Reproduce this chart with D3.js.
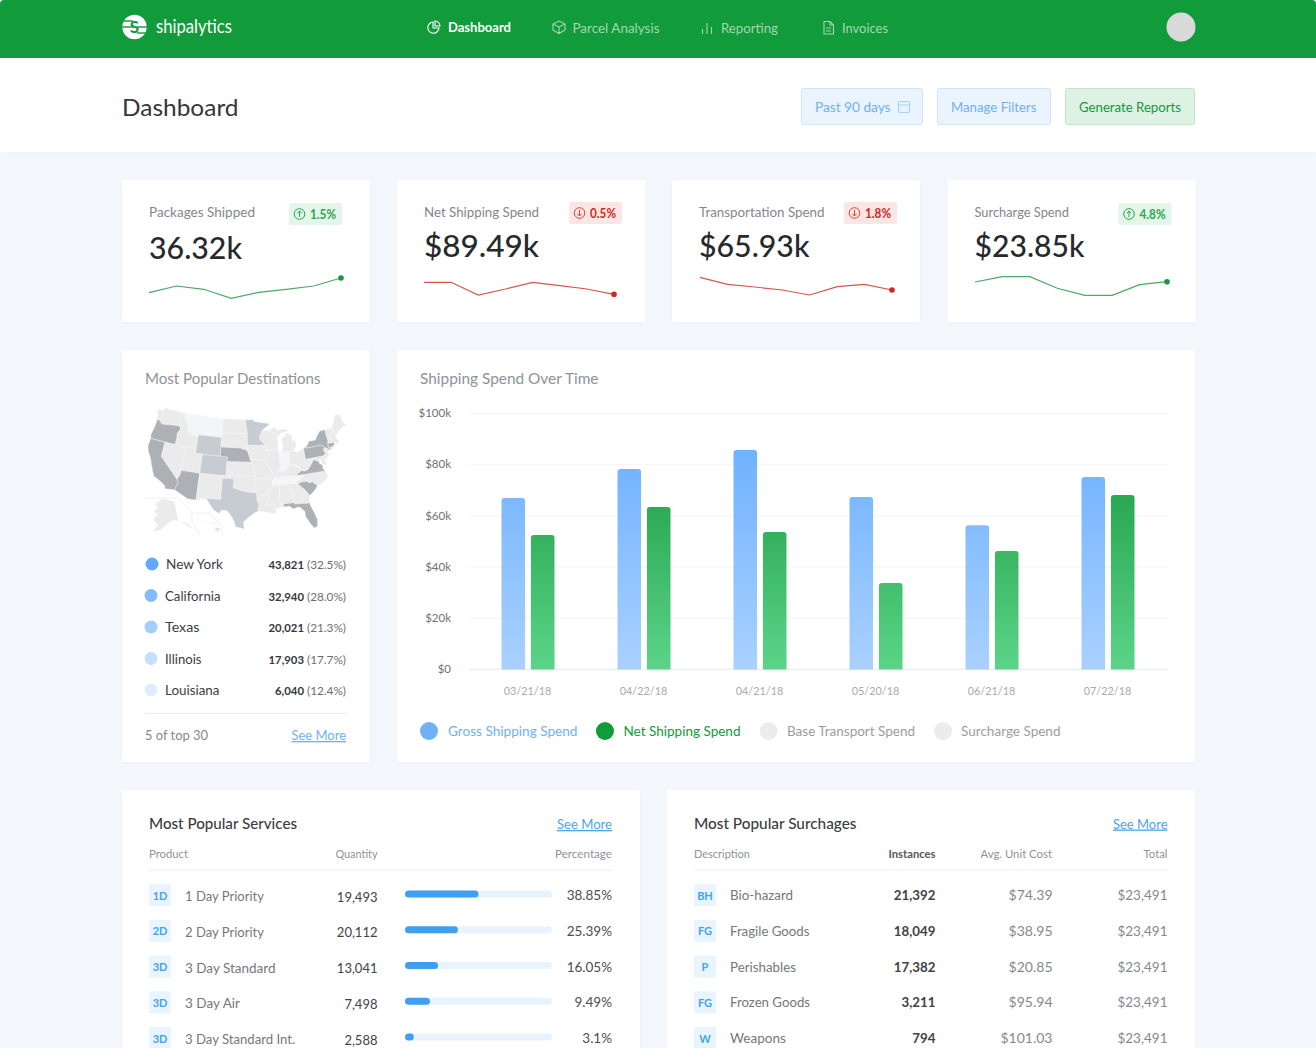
<!DOCTYPE html>
<html><head><meta charset="utf-8">
<script src="https://cdn.jsdelivr.net/npm/d3@7"></script>
<style>html,body{margin:0;padding:0;background:#f4f7fb;overflow:hidden}svg{display:block}text{font-family:Lato,"Noto Sans",sans-serif}</style>
</head><body><svg id="c" width="1316" height="1048"></svg>
<script>
// ---------- chart data ----------
const periods=["03/21/18","04/22/18","04/21/18","05/20/18","06/21/18","07/22/18"];
const grossSpend=[66.8,78.1,85.5,67.2,56.2,75];
const netSpend=[52.3,63.3,53.5,33.6,46.1,68];
const yTicks=[0,20,40,60,80,100];
const legendNames=["Gross Shipping Spend","Net Shipping Spend","Base Transport Spend","Surcharge Spend"];
const kpiTitles=["Packages Shipped","Net Shipping Spend","Transportation Spend","Surcharge Spend"];
const kpiValues=["36.32k","$89.49k","$65.93k","$23.85k"];
const kpiDelta=["1.5%","0.5%","1.8%","4.8%"];
const kpiUp=[true,false,false,true];
const spark1=[9.3,16,12.7,3.7,9.7,12.7,16,24];
const spark2=[19.7,19.7,7,13,19.7,16.3,13,7.7];
const spark3=[24.7,17.7,15,12,7,15.3,17.7,12];
const spark4=[20,25.3,25.3,13.7,6.7,6.7,17.3,20.3];
const destNames=["New York","California","Texas","Illinois","Louisiana"];
const destCounts=["43,821","32,940","20,021","17,903","6,040"];
const destShares=["(32.5%)","(28.0%)","(21.3%)","(17.7%)","(12.4%)"];
const svcCodes=["1D","2D","3D","3D","3D"];
const svcNames=["1 Day Priority","2 Day Priority","3 Day Standard","3 Day Air","3 Day Standard Int."];
const svcQty=["19,493","20,112","13,041","7,498","2,588"];
const svcPct=["38.85%","25.39%","16.05%","9.49%","3.1%"];
const svcBar=[50,36,22.5,17,6];
const surCodes=["BH","FG","P","FG","W"];
const surNames=["Bio-hazard","Fragile Goods","Perishables","Frozen Goods","Weapons"];
const surInst=["21,392","18,049","17,382","3,211","794"];
const surCost=["$74.39","$38.95","$20.85","$95.94","$101.03"];
const surTotal=["$23,491","$23,491","$23,491","$23,491","$23,491"];
// map: level 0 default, 1 pale, 2 blue-grey, 3 dark
const stateLevels={OR:3,CA:3,AZ:3,NE:3,NY:3,PA:3,VA:3,SC:3,FL:3,CT:3,WY:2,CO:2,TX:2,MN:2,MT:1,IN:1,TN:1};
const stateShapes={
WA:[[-124.7,48.4],[-123,48.3],[-122.8,49],[-117.03,49],[-117.03,46.4],[-116.9,46],[-119,45.95],[-121.2,45.65],[-122.3,45.55],[-123.2,46.15],[-124,46.25]],
OR:[[-124,46.25],[-123.2,46.15],[-122.3,45.55],[-121.2,45.65],[-119,45.95],[-116.9,46],[-116.5,45.5],[-117.2,44.4],[-117.03,43.8],[-117.03,42],[-124.2,42],[-124.5,42.8],[-124.1,44.5]],
CA:[[-124.2,42],[-120,42],[-120,39],[-114.6,35],[-114.15,34.3],[-114.5,33.4],[-114.72,32.72],[-117.12,32.53],[-117.3,33.1],[-118.4,33.75],[-120.6,34.55],[-121.9,36.6],[-122.5,37.7],[-123.8,39.3],[-124.35,40.4]],
NV:[[-120,42],[-114.04,42],[-114.04,36.2],[-114.6,35],[-120,39]],
ID:[[-117.03,49],[-116.05,49],[-116.05,48],[-114.4,46.65],[-114.4,45.55],[-113.45,44.95],[-111.05,44.48],[-111.05,42],[-117.03,42],[-117.03,43.8],[-117.2,44.4],[-116.5,45.5],[-116.9,46],[-117.03,46.4]],
MT:[[-116.05,49],[-104.05,49],[-104.05,45],[-111.05,45],[-111.05,44.48],[-113.45,44.95],[-114.4,45.55],[-114.4,46.65],[-116.05,48]],
WY:[[-111.05,45],[-104.05,45],[-104.05,41],[-111.05,41]],
UT:[[-114.04,42],[-111.05,42],[-111.05,41],[-109.05,41],[-109.05,37],[-114.04,37]],
CO:[[-109.05,41],[-102.05,41],[-102.05,37],[-109.05,37]],
AZ:[[-114.04,37],[-109.05,37],[-109.05,31.33],[-111.07,31.33],[-114.72,32.72],[-114.5,33.4],[-114.15,34.3],[-114.6,35],[-114.04,36.2]],
NM:[[-109.05,37],[-103,37],[-103.05,32],[-106.6,32],[-106.5,31.78],[-108.2,31.78],[-108.2,31.33],[-109.05,31.33]],
ND:[[-104.05,49],[-97.2,49],[-96.55,46],[-104.05,46]],
SD:[[-104.05,46],[-96.55,46],[-96.45,43.5],[-96.5,42.5],[-97.9,42.8],[-98.5,43],[-104.05,43]],
NE:[[-104.05,43],[-98.5,43],[-97.9,42.8],[-96.5,42.5],[-96,41.5],[-95.3,40],[-102.05,40],[-102.05,41],[-104.05,41]],
KS:[[-102.05,40],[-95.3,40],[-94.6,39.1],[-94.62,37],[-102.05,37]],
OK:[[-103,37],[-94.62,37],[-94.43,35.4],[-94.48,33.64],[-96.5,33.8],[-98,34.1],[-100,34.56],[-100,36.5],[-103,36.5]],
TX:[[-103,36.5],[-100,36.5],[-100,34.56],[-98,34.1],[-96.5,33.8],[-94.48,33.64],[-94.04,33.5],[-94.04,31.99],[-93.55,31.2],[-93.85,29.7],[-94.7,29.4],[-96,28.5],[-97.3,27.5],[-97.15,25.96],[-99.1,26.4],[-99.5,27.5],[-100.6,29.1],[-101.4,29.77],[-102.6,29.75],[-103.2,29],[-104.5,29.6],[-106.5,31.78],[-106.6,32],[-103.05,32]],
MN:[[-97.2,49],[-95.15,49],[-95.15,49.4],[-94.6,48.7],[-92,48.3],[-89.6,48],[-92,46.7],[-92.3,46.1],[-92.8,45.6],[-92.75,44.75],[-91.25,43.5],[-96.45,43.5],[-96.55,46]],
IA:[[-96.45,43.5],[-91.25,43.5],[-91.1,42.7],[-90.15,41.8],[-91.1,41.2],[-91.4,40.4],[-95.75,40.58],[-96,41.5],[-96.5,42.5]],
MO:[[-95.75,40.58],[-91.4,40.4],[-91.5,40],[-90.7,39],[-90.2,38.8],[-90.2,38.3],[-89.5,37.3],[-89.15,37],[-89.7,36],[-90.35,36],[-90.15,36.5],[-94.62,36.5],[-94.62,37],[-94.6,39.1],[-95.3,40]],
AR:[[-94.62,36.5],[-90.15,36.5],[-90.35,36],[-89.7,36],[-90.1,35],[-91.1,33.9],[-91.15,33],[-94.04,33],[-94.04,33.5],[-94.48,33.64],[-94.43,35.4]],
LA:[[-94.04,33],[-91.15,33],[-90.9,32.3],[-91.6,31],[-89.73,31],[-89.6,30.2],[-89.4,29.2],[-90.2,29.1],[-91.8,29.5],[-93.85,29.7],[-93.55,31.2],[-94.04,31.99]],
WI:[[-92,46.7],[-90.4,46.55],[-88.1,45.9],[-87.6,45.1],[-88,44.5],[-87.5,44.6],[-87.8,42.5],[-90.65,42.5],[-91.1,42.7],[-91.25,43.5],[-92.75,44.75],[-92.8,45.6],[-92.3,46.1]],
IL:[[-90.65,42.5],[-87.8,42.5],[-87.53,41.7],[-87.53,39.3],[-87.6,38.7],[-88.05,37.8],[-88.45,37.1],[-89.15,37],[-89.5,37.3],[-90.2,38.3],[-90.2,38.8],[-90.7,39],[-91.5,40],[-91.4,40.4],[-91.1,41.2],[-90.15,41.8]],
IN:[[-87.53,41.7],[-86.8,41.76],[-84.8,41.76],[-84.82,39.1],[-85.4,38.7],[-86,38],[-87.1,37.8],[-88.05,37.8],[-87.6,38.7],[-87.53,39.3]],
MI:[[-86.8,41.76],[-84.8,41.76],[-83.45,41.73],[-83.1,42.2],[-82.45,43],[-82.6,43.9],[-83.5,44],[-83.3,45],[-84.75,45.75],[-85.6,45],[-86.3,44.7],[-86.5,43.7],[-86.25,42.8]],
MU:[[-90.4,46.55],[-88.1,45.9],[-87.6,45.1],[-86.5,45.8],[-84.8,46],[-84.5,46.5],[-85.9,46.7],[-87.5,46.5],[-88.3,47.3],[-88.9,46.9]],
OH:[[-84.8,41.76],[-83.45,41.73],[-82.5,41.4],[-80.52,41.98],[-80.52,40.64],[-80.85,39.7],[-81.7,39.2],[-82.5,38.4],[-83.7,38.65],[-84.82,39.1]],
KY:[[-89.15,37],[-88.45,37.1],[-88.05,37.8],[-87.1,37.8],[-86,38],[-85.4,38.7],[-84.82,39.1],[-83.7,38.65],[-82.6,38.2],[-81.97,37.54],[-83.68,36.6],[-88.07,36.5],[-89.4,36.5]],
TN:[[-89.7,36],[-89.4,36.5],[-88.07,36.5],[-83.68,36.6],[-81.68,36.59],[-82,36.1],[-84.32,35],[-90.1,35]],
MS:[[-90.1,35],[-88.2,35],[-88.4,32.5],[-88.4,30.2],[-89.6,30.2],[-89.73,31],[-91.6,31],[-90.9,32.3],[-91.15,33],[-91.1,33.9]],
AL:[[-88.2,35],[-85.6,35],[-85,32.3],[-85,31],[-87.6,31],[-87.5,30.3],[-88.4,30.2],[-88.4,32.5]],
GA:[[-85.6,35],[-83.1,35],[-83.35,34.7],[-81.9,33.4],[-80.9,32.05],[-81.4,30.7],[-82.05,30.4],[-82.2,30.57],[-84.85,30.7],[-85,31],[-85,32.3]],
FL:[[-87.6,31],[-85,31],[-84.85,30.7],[-82.2,30.57],[-82.05,30.4],[-81.4,30.7],[-80.5,28.3],[-80.05,26.8],[-80.35,25.3],[-81.1,25.1],[-81.8,26.1],[-82.7,27.8],[-82.7,28.9],[-83.7,29.9],[-84.3,30],[-85.3,29.7],[-86.3,30.4],[-87.5,30.3]],
SC:[[-83.35,34.7],[-83.1,35],[-82.3,35.2],[-81,35.15],[-80.8,34.82],[-79.67,34.8],[-78.55,33.86],[-79.3,33.1],[-80.9,32.05],[-81.9,33.4]],
NC:[[-84.32,35],[-82,36.1],[-81.68,36.59],[-75.9,36.55],[-75.5,35.25],[-76.5,34.65],[-77.9,33.9],[-78.55,33.86],[-79.67,34.8],[-80.8,34.82],[-81,35.15],[-82.3,35.2],[-83.1,35]],
VA:[[-83.68,36.6],[-81.97,37.54],[-81.3,37.3],[-80.3,37.5],[-79.3,38.4],[-78.35,39.4],[-77.8,39.15],[-77.05,38.85],[-77,38.3],[-76.3,37.9],[-76.3,37],[-75.9,36.55],[-81.68,36.59]],
WV:[[-81.97,37.54],[-82.6,38.2],[-82.5,38.4],[-81.7,39.2],[-80.85,39.7],[-80.52,40.64],[-80.52,39.72],[-79.48,39.72],[-79.48,39.2],[-78.35,39.4],[-79.3,38.4],[-80.3,37.5],[-81.3,37.3]],
MD:[[-79.48,39.72],[-75.79,39.72],[-75.7,38.45],[-75.05,38.45],[-75.4,37.9],[-76.3,38],[-76.5,39.2],[-77.05,38.85],[-77.8,39.15],[-78.35,39.4],[-79.48,39.2]],
DE:[[-75.79,39.72],[-75.4,39.8],[-75.05,38.45],[-75.7,38.45]],
PA:[[-80.52,41.98],[-79.76,42.27],[-79.76,42],[-75.35,42],[-74.7,41.36],[-75.13,40.97],[-74.72,40.15],[-75.4,39.8],[-75.79,39.72],[-80.52,39.72]],
NJ:[[-74.7,41.36],[-73.9,41],[-74,40.45],[-74.1,39.7],[-74.9,38.95],[-75.55,39.55],[-74.72,40.15],[-75.13,40.97]],
NY:[[-79.76,42.27],[-78.9,42.9],[-79.05,43.27],[-76.8,43.3],[-76.2,44],[-75,44.95],[-73.35,45],[-73.4,43.6],[-73.25,42.75],[-73.5,42.05],[-73.65,41],[-72,41.05],[-74,40.6],[-73.9,41],[-74.7,41.36],[-75.35,42],[-79.76,42]],
CT:[[-73.5,42.05],[-71.8,42.02],[-71.8,41.35],[-73.65,41]],
RI:[[-71.8,42.02],[-71.38,42.02],[-71.15,41.5],[-71.8,41.35]],
MA:[[-73.5,42.05],[-73.25,42.75],[-71.3,42.7],[-70.8,42.85],[-70.6,42.3],[-70,41.75],[-70.6,41.6],[-71.15,41.5],[-71.38,42.02]],
VT:[[-73.35,45],[-71.5,45],[-72.45,43],[-72.45,42.73],[-73.25,42.75],[-73.4,43.6]],
NH:[[-71.5,45],[-71.1,45.3],[-70.7,43.1],[-70.8,42.85],[-71.3,42.7],[-72.45,42.73],[-72.45,43]],
ME:[[-71.1,45.3],[-70.4,46],[-70,46.7],[-69.2,47.45],[-68.3,47.35],[-67.8,47.07],[-67.8,45.7],[-67,44.85],[-68.8,44.4],[-70.2,43.6],[-70.7,43.1]]
};
const alaskaShape=[[-141,69.6],[-141,60.2],[-137,58.8],[-133,55.5],[-131,55],[-134,58],[-139,59.8],[-146,60.6],[-151,59.4],[-154,57.6],[-158,56],[-163,54.8],[-160,58.6],[-165,60.5],[-161,63.5],[-166,64.8],[-162,66.5],[-166,68.5],[-157,71.2]];
const hawaiiShapes=[[[-155.9,19.9],[-155.1,19.8],[-155.0,19.4],[-155.7,18.95],[-156,19.5]],[[-156.7,21],[-156,20.8],[-156.4,20.6]],[[-158.25,21.55],[-157.7,21.4],[-158.05,21.3]],[[-159.8,22.2],[-159.3,22.1],[-159.5,21.9]]];
// ---------- helpers ----------
const svg=d3.select("#c");
const defs=svg.append("defs");
const shadow=defs.append("filter").attr("id","sh").attr("x","-5%").attr("y","-5%").attr("width","110%").attr("height","110%");
shadow.append("feDropShadow").attr("dx",0).attr("dy",1).attr("stdDeviation",3).attr("flood-color","#b8c4d4").attr("flood-opacity",.1);
function T(p,x,y,s,o={}){const t=p.append("text").attr("x",x).attr("y",y).text(s)
 .attr("font-size",o.size||13).attr("fill",o.fill||"#333").attr("font-weight",o.weight||400).attr("text-anchor",o.anchor||"start");
 if(o.w)t.attr("textLength",o.w).attr("lengthAdjust","spacingAndGlyphs");if(o.deco)t.attr("text-decoration",o.deco);return t;}
function card(x,y,w,h){svg.append("rect").attr("x",x).attr("y",y).attr("width",w).attr("height",h).attr("fill","#fff").attr("filter","url(#sh)");}
// ---------- header ----------
svg.append("rect").attr("x",0).attr("y",0).attr("width",1316).attr("height",152).attr("fill","#fff").attr("filter","url(#sh)");
svg.append("path").attr("fill","#119b3a").attr("d","M0,58 V4 Q0,0 4,0 H1312 Q1316,0 1316,4 V58 Z");
const logo=svg.append("g");
logo.append("circle").attr("cx",134.5).attr("cy",27).attr("r",12.2).attr("fill","#fff");
[[122,21,11],[122,27,12],[137,27,10],[137,33,10]].forEach(d=>logo.append("rect").attr("x",d[0]).attr("y",d[1]-.7).attr("width",d[2]).attr("height",1.4).attr("fill","#119b3a"));
T(logo,134.5,33,"S",{size:17,fill:"#119b3a",anchor:"middle",weight:700});
T(svg,156,33,"shipalytics",{size:20,fill:"#fff",weight:400,w:76});
const navNames=["Dashboard","Parcel Analysis","Reporting","Invoices"];
const navX=[448,572.5,721,842],navW=[63,87,57,46];
navNames.forEach((n,i)=>T(svg,navX[i],i?32.5:32,n,{size:13.5,fill:i?"#a3d6b2":"#fff",weight:i?400:700,w:navW[i]}));
const ic=svg.append("g").attr("fill","none").attr("stroke-width",1.1);
ic.append("path").attr("stroke","#fff").attr("d","M433,22 A5.6,5.6 0 1 0 439,28 L433,28 Z M435,21 A5.6,5.6 0 0 1 440,26 L435,26 Z");
ic.append("path").attr("stroke","#a3d6b2").attr("d","M559,21 L565,24 L565,30 L559,33.5 L553,30 L553,24 Z M553,24 L559,27 L565,24 M559,27 L559,33.5");
ic.append("path").attr("stroke","#a3d6b2").attr("d","M702.5,34 V29 M707,34 V23 M711.5,34 V27");
ic.append("path").attr("stroke","#a3d6b2").attr("d","M824,21.5 H830 L833.5,25 V34 H824 Z M830,21.5 V25 H833.5 M826,28 H831 M826,31 H831");
svg.append("circle").attr("cx",1181).attr("cy",27).attr("r",14.5).attr("fill","#d9d9d9");
T(svg,122,116,"Dashboard",{size:24,fill:"#34373c",w:116.5});
const btnX=[801,937,1065],btnW=[122,114,130],btnF=["#eaf4fe","#eaf4fe","#ddf2e3"],btnS=["#cfe4fa","#cfe4fa","#c3e5cd"],btnT=["#6fb1f5","#6fb1f5","#119b3a"];
["Past 90 days","Manage Filters","Generate Reports"].forEach((n,i)=>{
 svg.append("rect").attr("x",btnX[i]+.5).attr("y",88.5).attr("width",btnW[i]-1).attr("height",36).attr("rx",2).attr("fill",btnF[i]).attr("stroke",btnS[i]);
 T(svg,btnX[i]+14,112,n,{size:13.5,fill:btnT[i],w:[75.5,85.5,102][i]});
});
svg.append("path").attr("fill","none").attr("stroke","#a9d0f8").attr("stroke-width",1.1).attr("d","M900,101.5 h8 a1.5,1.5 0 0 1 1.5,1.5 v8 a1.5,1.5 0 0 1 -1.5,1.5 h-8 a1.5,1.5 0 0 1 -1.5,-1.5 v-8 a1.5,1.5 0 0 1 1.5,-1.5 M898.5,105 h11");
// ---------- KPI cards ----------
const kpiX=[122,397,672,947.5];
const sparks=[spark1,spark2,spark3,spark4];
const sparkY=d3.scaleLinear().domain([0,30]).range([302,272]);
const titleW=[106,115,125.5,94.5],valW=[93,115,110.5,110];
kpiTitles.forEach((t,i)=>{
 const x=kpiX[i];card(x,180,i==0?247.5:248,142);
 T(svg,x+27,217,t,{size:13,fill:"#83878c",w:titleW[i]});
 T(svg,x+27,(i?257:259),kpiValues[i],{size:31,fill:"#26292e",weight:500,w:valW[i]});
 const up=kpiUp[i],col=up?"#119b3a":"#d0281e",pad=[167,172,172,171][i],by=i==0||i==3?203:202;
 svg.append("rect").attr("x",x+pad).attr("y",by).attr("width",53).attr("height",22).attr("rx",2).attr("fill",up?"#e4f5e9":"#fce6e5");
 const cx=x+pad+10.5,cy=by+11;
 svg.append("circle").attr("cx",cx).attr("cy",cy).attr("r",5.3).attr("fill","none").attr("stroke",up?"#2aa751":"#d8433a").attr("stroke-width",1);
 const s=up?-1:1;
 svg.append("path").attr("fill","none").attr("stroke",up?"#2aa751":"#d8433a").attr("d",`M${cx},${cy-3*s} V${cy+3*s} M${cx-2.2},${cy+.8*s} L${cx},${cy+3*s} L${cx+2.2},${cy+.8*s}`);
 T(svg,x+pad+21,by+15.5,kpiDelta[i],{size:13,fill:up?"#2aa751":"#d0281e",weight:700,w:26});
 const sx=d3.scalePoint().domain(d3.range(8)).range(i==0?[x+27,x+219]:i==1?[x+27,x+217]:i==2?[x+28,x+220]:[x+27.5,x+219.5]);
 const line=d3.line().x((d,j)=>sx(j)).y(d=>sparkY(d));
 svg.append("path").datum(sparks[i]).attr("d",line).attr("fill","none").attr("stroke",up?"#48ab67":"#d4574c").attr("stroke-width",1.2);
 svg.append("circle").attr("cx",sx(7)).attr("cy",sparkY(sparks[i][7])).attr("r",2.8).attr("fill",col);
});
// ---------- destinations ----------
card(122,350,247.5,412);
T(svg,145,384,"Most Popular Destinations",{size:15,fill:"#8e9399",w:175.5});
const proj=d3.geoAlbers().rotate([96,0]).center([-0.6,38.7]).parallels([29.5,45.5]).scale(1000).translate([0,0]);
const allPts=Object.values(stateShapes).flat().map(p=>proj(p));
const mapX=d3.scaleLinear().domain(d3.extent(allPts,p=>p[0])).range([148,346]);
const mapY=d3.scaleLinear().domain(d3.extent(allPts,p=>p[1])).range([408,529]);
const stateLine=d3.line().x(d=>mapX(proj(d)[0])).y(d=>mapY(proj(d)[1])).curve(d3.curveLinearClosed);
const levelFill=["#ebebec","#f3f5f7","#c6ccd2","#adb1b6"];
const gMap=svg.append("g");
gMap.selectAll("path").data(Object.entries(stateShapes)).join("path")
 .attr("d",d=>stateLine(d[1])).attr("fill",d=>levelFill[stateLevels[d[0]]||0]).attr("stroke","#f8f8f9").attr("stroke-width",.4).attr("stroke-linejoin","round");
const akP=d3.geoConicEqualArea().rotate([154,0]).center([0,62]).parallels([55,65]).scale(1);
const akPts=alaskaShape.map(p=>akP(p));
const akX=d3.scaleLinear().domain(d3.extent(akPts,p=>p[0])).range([153,192]);
const akY=d3.scaleLinear().domain(d3.extent(akPts,p=>p[1])).range([499,532]);
gMap.append("path").attr("d",d3.line().x(d=>akX(akP(d)[0])).y(d=>akY(akP(d)[1])).curve(d3.curveLinearClosed)(alaskaShape)).attr("fill","#ebebec");
const hiX=d3.scaleLinear().domain([-160,-155]).range([196,220]),hiY=d3.scaleLinear().domain([18.9,22.2]).range([532,517]);
gMap.selectAll(".hi").data(hawaiiShapes).join("path").attr("class","hi").attr("d",d3.line().x(d=>hiX(d[0])).y(d=>hiY(d[1])).curve(d3.curveLinearClosed)).attr("fill","#e2e3e4");
gMap.append("path").attr("fill","none").attr("stroke","#e7e8ea").attr("stroke-width",.7).attr("d","M145,498 H178 L192,513 H210 L222,527 V535 M192,513 V522 L200,535");
const destY=d3.scalePoint().domain(destNames).range([569,695]);
const dotCol=["#63a9fb","#82bcfc","#a4cffd","#c5e0fd","#deedfe"];
const nameW=[57,55.5,34.5,36.5,54.5],cntW=[35.5,35.5,35.5,35.5,29];
destNames.forEach((n,i)=>{const y=destY(n);
 svg.append("circle").attr("cx",i?151:152).attr("cy",y-5).attr("r",6.5).attr("fill",dotCol[i]);
 T(svg,i?165:166,y,n,{size:13.5,fill:"#3b3e43",w:nameW[i]});
 T(svg,346,y,destShares[i],{size:11.5,fill:"#6a6e73",anchor:"end",w:39});
 T(svg,304,y,destCounts[i],{size:11.5,fill:"#34373c",anchor:"end",weight:700,w:cntW[i]});
});
svg.append("line").attr("x1",145).attr("x2",346).attr("y1",713.5).attr("y2",713.5).attr("stroke","#e8eaed");
T(svg,145,740,"5 of top 30",{size:13,fill:"#85898e",w:63});
T(svg,346,740,"See More",{size:13,fill:"#6fb1f5",anchor:"end",deco:"underline",w:54.5});
// ---------- main chart ----------
card(397,350,798,412);
T(svg,420,384,"Shipping Spend Over Time",{size:15,fill:"#8e9399",w:178.5});
const y=d3.scaleLinear().domain([0,100]).range([669,413]);
const x0=d3.scaleBand().domain(periods).range([469.5,1165.5]);
const x1=d3.scaleBand().domain(["gross","net"]).range([0,53]).paddingInner(.2);
const gY=svg.append("g").attr("transform","translate(469,0)")
 .call(d3.axisLeft(y).tickValues(yTicks).tickSize(-699).tickPadding(18).tickFormat(d=>d?`$${d}k`:"$0"));
gY.select(".domain").remove();
gY.selectAll("line").attr("stroke",d=>d?"#f3f4f6":"#eceef0").attr("stroke-width",d=>d?1:1.5);
gY.selectAll("text").attr("font-size",11.5).attr("fill","#6d7177").attr("font-family","Lato");
const gX=svg.append("g").attr("transform","translate(0,669)").call(d3.axisBottom(x0).tickSize(0).tickPadding(18));
gX.select(".domain").remove();
gX.selectAll("text").attr("font-size",10.8).attr("fill","#a6aaaf").attr("font-family","Lato");
function grad(id,top,bot){const g=defs.append("linearGradient").attr("id",id).attr("gradientUnits","userSpaceOnUse").attr("x1",0).attr("x2",0).attr("y1",y(85)).attr("y2",y(0));
 g.append("stop").attr("offset",0).attr("stop-color",top);g.append("stop").attr("offset",1).attr("stop-color",bot);}
grad("gb","#70b2ff","#a9d1ff");grad("gg","#1d9c44","#5bd488");
const barPath=(bx,vy,w)=>{const r=3,b=y(0)+.5;return `M${bx},${b} V${vy+r} Q${bx},${vy} ${bx+r},${vy} H${bx+w-r} Q${bx+w},${vy} ${bx+w},${vy+r} V${b} Z`;};
svg.append("g").selectAll("path").data(periods).join("path").attr("fill","url(#gb)")
 .attr("d",(d,i)=>barPath(x0(d)+32+x1("gross"),y(grossSpend[i]),x1.bandwidth()));
svg.append("g").selectAll("path").data(periods).join("path").attr("fill","url(#gg)")
 .attr("d",(d,i)=>barPath(x0(d)+32+x1("net"),y(netSpend[i]),x1.bandwidth()));
const legDot=[429,605,768.5,943],legTx=[448,623.5,787,961],legW=[129.5,117,128,99.5],legCol=["#6fb1f5","#119b3a","#ececee","#ececee"],legTxt=["#6fb1f5","#119b3a","#9a9ea3","#9a9ea3"];
legendNames.forEach((n,i)=>{
 svg.append("circle").attr("cx",legDot[i]).attr("cy",731).attr("r",9).attr("fill",legCol[i]);
 T(svg,legTx[i],735.5,n,{size:13.5,fill:legTxt[i],w:legW[i]});
});
// ---------- tables ----------
card(122,790,518,270);card(667,790,528,270);
const rowsL=d3.scalePoint().domain(d3.range(5)).range([901,1044]);
const rowsR=d3.scalePoint().domain(d3.range(5)).range([900,1043]);
const barX=d3.scaleLinear().domain([0,100]).range([405,552]);
T(svg,149,829,"Most Popular Services",{size:15,fill:"#3a3d42",weight:500,w:148});
T(svg,612,829,"See More",{size:13,fill:"#49a5ea",anchor:"end",deco:"underline",w:55});
T(svg,149,858,"Product",{size:11.5,fill:"#8f9398",w:39});
T(svg,377.5,858,"Quantity",{size:11.5,fill:"#8f9398",anchor:"end",w:42});
T(svg,612,858,"Percentage",{size:11.5,fill:"#8f9398",anchor:"end",w:57});
svg.append("line").attr("x1",149).attr("x2",612).attr("y1",870).attr("y2",870).attr("stroke","#eef0f3").attr("stroke-width",1.2);
function badge(x,yy,c){svg.append("rect").attr("x",x).attr("y",yy-17).attr("width",22).attr("height",22).attr("rx",1).attr("fill","#e9f5fe");
 T(svg,x+11,yy-1.5,c,{size:11,fill:"#45a3ee",anchor:"middle",weight:700});}
const svcNameW=[79,79,90.5,55,110];
svcNames.forEach((n,i)=>{const yy=rowsL(i);
 badge(149,yy,svcCodes[i]);
 T(svg,185,yy,n,{size:13.5,fill:"#74787d",w:svcNameW[i]});
 T(svg,377.5,yy+.5,svcQty[i],{size:13,fill:"#3f4247",anchor:"end"});
 svg.append("rect").attr("x",barX(0)).attr("y",yy-10.5).attr("width",barX(100)-barX(0)).attr("height",7).attr("rx",3.5).attr("fill","#e8f4fd");
 svg.append("rect").attr("x",barX(0)).attr("y",yy-10.5).attr("width",barX(svcBar[i])-barX(0)).attr("height",7).attr("rx",3.5).attr("fill","#3fa0f0");
 T(svg,612,yy-1,svcPct[i],{size:13.5,fill:"#4a4d52",anchor:"end"});
});
T(svg,694,829,"Most Popular Surchages",{size:15,fill:"#3a3d42",weight:500,w:162.5});
T(svg,1167.5,828.5,"See More",{size:13,fill:"#49a5ea",anchor:"end",deco:"underline",w:54.5});
T(svg,694,858,"Description",{size:11.5,fill:"#8f9398",w:56});
T(svg,935.5,858,"Instances",{size:11.5,fill:"#55585d",anchor:"end",weight:700,w:47});
T(svg,1052,858,"Avg. Unit Cost",{size:11.5,fill:"#8f9398",anchor:"end",w:71.5});
T(svg,1167.5,858,"Total",{size:11.5,fill:"#8f9398",anchor:"end",w:24});
svg.append("line").attr("x1",694).attr("x2",1167.5).attr("y1",870).attr("y2",870).attr("stroke","#eef0f3").attr("stroke-width",1.2);
const surNameW=[63,79.5,66,80,56];
surNames.forEach((n,i)=>{const yy=rowsR(i);
 badge(694,yy+1,surCodes[i]);
 T(svg,730,yy,n,{size:13.5,fill:"#74787d",w:surNameW[i]});
 T(svg,935.5,yy,surInst[i],{size:13.3,fill:"#3f4247",anchor:"end",weight:700});
 T(svg,1052.5,yy,surCost[i],{size:14,fill:"#85898e",anchor:"end"});
 T(svg,1167.5,yy,surTotal[i],{size:13.5,fill:"#85898e",anchor:"end"});
});
</script></body></html>
